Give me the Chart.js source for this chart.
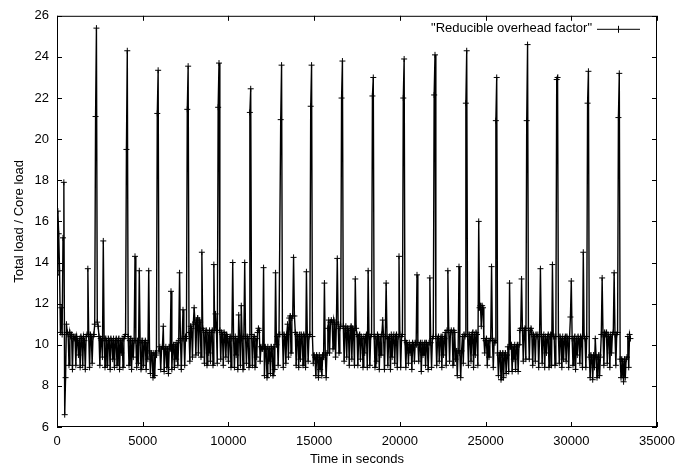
<!DOCTYPE html>
<html lang="en">
<head>
    <meta charset="UTF-8">
    <title>Reducible overhead factor</title>
    <script src="https://cdn.jsdelivr.net/npm/chart.js"></script>
    <style>
        html, body { margin: 0; padding: 0; background: #fff; }
        #wrap { width: 685px; height: 469px; }
    </style>
</head>
<body>
    <div id="wrap"><canvas id="overheadChart" width="685" height="469"></canvas></div>
    <script>
        const seriesLabel = '"Reducible overhead factor"';
        const xTitle = 'Time in seconds';
        const yTitle = 'Total load / Core load';
        const xTicks = [0, 5000, 10000, 15000, 20000, 25000, 30000, 35000];
        const yTicks = [6, 8, 10, 12, 14, 16, 18, 20, 22, 24, 26];

        // sample times in seconds (one row = 1000 s)
        const timeSec = [
            0, 50, 100, 150, 200, 250, 300, 350, 400, 450, 500, 550, 600, 650, 700, 750, 800, 850, 900, 950,
            1000, 1050, 1100, 1150, 1200, 1250, 1300, 1350, 1400, 1450, 1500, 1550, 1600, 1650, 1700, 1750, 1800, 1850, 1900, 1950,
            2000, 2050, 2100, 2150, 2200, 2250, 2300, 2350, 2400, 2450, 2500, 2550, 2600, 2650, 2700, 2750, 2800, 2850, 2900, 2950,
            3000, 3050, 3100, 3150, 3200, 3250, 3300, 3350, 3400, 3450, 3500, 3550, 3600, 3650, 3700, 3750, 3800, 3850, 3900, 3950,
            4000, 4050, 4100, 4150, 4200, 4250, 4300, 4350, 4400, 4450, 4500, 4550, 4600, 4650, 4700, 4750, 4800, 4850, 4900, 4950,
            5000, 5050, 5100, 5150, 5200, 5250, 5300, 5350, 5400, 5450, 5500, 5550, 5600, 5650, 5700, 5750, 5800, 5850, 5900, 5950,
            6000, 6050, 6100, 6150, 6200, 6250, 6300, 6350, 6400, 6450, 6500, 6550, 6600, 6650, 6700, 6750, 6800, 6850, 6900, 6950,
            7000, 7050, 7100, 7150, 7200, 7250, 7300, 7350, 7400, 7450, 7500, 7550, 7600, 7650, 7700, 7750, 7800, 7850, 7900, 7950,
            8000, 8050, 8100, 8150, 8200, 8250, 8300, 8350, 8400, 8450, 8500, 8550, 8600, 8650, 8700, 8750, 8800, 8850, 8900, 8950,
            9000, 9050, 9100, 9150, 9200, 9250, 9300, 9350, 9400, 9450, 9500, 9550, 9600, 9650, 9700, 9750, 9800, 9850, 9900, 9950,
            10000, 10050, 10100, 10150, 10200, 10250, 10300, 10350, 10400, 10450, 10500, 10550, 10600, 10650, 10700, 10750, 10800, 10850, 10900, 10950,
            11000, 11050, 11100, 11150, 11200, 11250, 11300, 11350, 11400, 11450, 11500, 11550, 11600, 11650, 11700, 11750, 11800, 11850, 11900, 11950,
            12000, 12050, 12100, 12150, 12200, 12250, 12300, 12350, 12400, 12450, 12500, 12550, 12600, 12650, 12700, 12750, 12800, 12850, 12900, 12950,
            13000, 13050, 13100, 13150, 13200, 13250, 13300, 13350, 13400, 13450, 13500, 13550, 13600, 13650, 13700, 13750, 13800, 13850, 13900, 13950,
            14000, 14050, 14100, 14150, 14200, 14250, 14300, 14350, 14400, 14450, 14500, 14550, 14600, 14650, 14700, 14750, 14800, 14850, 14900, 14950,
            15000, 15050, 15100, 15150, 15200, 15250, 15300, 15350, 15400, 15450, 15500, 15550, 15600, 15650, 15700, 15750, 15800, 15850, 15900, 15950,
            16000, 16050, 16100, 16150, 16200, 16250, 16300, 16350, 16400, 16450, 16500, 16550, 16600, 16650, 16700, 16750, 16800, 16850, 16900, 16950,
            17000, 17050, 17100, 17150, 17200, 17250, 17300, 17350, 17400, 17450, 17500, 17550, 17600, 17650, 17700, 17750, 17800, 17850, 17900, 17950,
            18000, 18050, 18100, 18150, 18200, 18250, 18300, 18350, 18400, 18450, 18500, 18550, 18600, 18650, 18700, 18750, 18800, 18850, 18900, 18950,
            19000, 19050, 19100, 19150, 19200, 19250, 19300, 19350, 19400, 19450, 19500, 19550, 19600, 19650, 19700, 19750, 19800, 19850, 19900, 19950,
            20000, 20050, 20100, 20150, 20200, 20250, 20300, 20350, 20400, 20450, 20500, 20550, 20600, 20650, 20700, 20750, 20800, 20850, 20900, 20950,
            21000, 21050, 21100, 21150, 21200, 21250, 21300, 21350, 21400, 21450, 21500, 21550, 21600, 21650, 21700, 21750, 21800, 21850, 21900, 21950,
            22000, 22050, 22100, 22150, 22200, 22250, 22300, 22350, 22400, 22450, 22500, 22550, 22600, 22650, 22700, 22750, 22800, 22850, 22900, 22950,
            23000, 23050, 23100, 23150, 23200, 23250, 23300, 23350, 23400, 23450, 23500, 23550, 23600, 23650, 23700, 23750, 23800, 23850, 23900, 23950,
            24000, 24050, 24100, 24150, 24200, 24250, 24300, 24350, 24400, 24450, 24500, 24550, 24600, 24650, 24700, 24750, 24800, 24850, 24900, 24950,
            25000, 25050, 25100, 25150, 25200, 25250, 25300, 25350, 25400, 25450, 25500, 25550, 25600, 25650, 25700, 25750, 25800, 25850, 25900, 25950,
            26000, 26050, 26100, 26150, 26200, 26250, 26300, 26350, 26400, 26450, 26500, 26550, 26600, 26650, 26700, 26750, 26800, 26850, 26900, 26950,
            27000, 27050, 27100, 27150, 27200, 27250, 27300, 27350, 27400, 27450, 27500, 27550, 27600, 27650, 27700, 27750, 27800, 27850, 27900, 27950,
            28000, 28050, 28100, 28150, 28200, 28250, 28300, 28350, 28400, 28450, 28500, 28550, 28600, 28650, 28700, 28750, 28800, 28850, 28900, 28950,
            29000, 29050, 29100, 29150, 29200, 29250, 29300, 29350, 29400, 29450, 29500, 29550, 29600, 29650, 29700, 29750, 29800, 29850, 29900, 29950,
            30000, 30050, 30100, 30150, 30200, 30250, 30300, 30350, 30400, 30450, 30500, 30550, 30600, 30650, 30700, 30750, 30800, 30850, 30900, 30950,
            31000, 31050, 31100, 31150, 31200, 31250, 31300, 31350, 31400, 31450, 31500, 31550, 31600, 31650, 31700, 31750, 31800, 31850, 31900, 31950,
            32000, 32050, 32100, 32150, 32200, 32250, 32300, 32350, 32400, 32450, 32500, 32550, 32600, 32650, 32700, 32750, 32800, 32850, 32900, 32950,
            33000, 33050, 33100, 33150, 33200, 33250, 33300, 33350, 33400, 33450
        ];
        const overheadFactor = [
            13.4, 16.5, 15.4, 13.6, 10.6, 11.8, 10.5, 15.2, 17.9, 6.6, 8.4, 11.0, 10.6, 10.5, 9.0, 10.6, 10.4, 10.5, 8.8, 10.4,
            10.3, 10.4, 9.0, 10.4, 10.2, 9.5, 10.3, 8.9, 10.4, 10.3, 9.0, 10.4, 10.2, 8.8, 10.4, 10.5, 13.7, 10.4, 8.9, 10.5,
            10.4, 9.1, 10.4, 10.5, 11.0, 21.1, 25.4, 11.1, 10.9, 10.4, 9.0, 10.3, 10.2, 9.4, 15.05, 10.3, 8.9, 10.3, 10.2, 9.0,
            10.3, 10.2, 8.8, 10.3, 10.2, 9.3, 10.3, 8.9, 10.2, 10.3, 9.0, 10.2, 10.3, 8.8, 10.2, 9.6, 10.3, 8.9, 10.3, 10.4,
            10.5, 19.5, 24.3, 10.4, 9.0, 10.2, 10.3, 8.8, 10.2, 9.4, 10.2, 14.3, 10.2, 8.9, 10.2, 9.1, 13.6, 10.1, 8.8, 10.2,
            10.2, 9.0, 10.1, 10.2, 8.8, 10.1, 9.3, 13.6, 9.7, 8.6, 9.6, 9.5, 8.4, 9.6, 8.5, 9.6, 9.5, 21.25, 23.35, 9.7,
            9.9, 8.8, 9.8, 9.9, 10.9, 8.7, 9.8, 9.9, 8.9, 9.8, 8.6, 9.9, 9.8, 12.6, 8.8, 9.9, 10.0, 8.9, 10.0, 9.3,
            10.1, 9.0, 10.2, 13.5, 10.3, 8.8, 10.3, 11.7, 10.3, 9.0, 10.4, 10.3, 21.45, 23.55, 10.6, 9.2, 10.9, 10.8, 9.4, 11.0,
            11.8, 11.1, 9.5, 11.2, 11.3, 9.6, 11.2, 11.1, 9.4, 14.5, 10.8, 10.7, 9.1, 10.6, 10.7, 9.0, 10.6, 9.6, 10.7, 9.2,
            10.6, 10.7, 9.0, 13.9, 10.7, 11.5, 10.7, 9.1, 21.55, 23.7, 10.7, 9.3, 10.6, 10.5, 9.0, 10.6, 10.5, 9.4, 10.5, 10.4,
            9.2, 10.3, 10.4, 8.9, 10.3, 14.0, 10.3, 8.9, 10.4, 9.5, 10.3, 8.8, 11.45, 10.3, 9.0, 11.9, 10.3, 8.8, 10.4, 14.0,
            10.3, 9.1, 10.4, 10.3, 8.9, 21.3, 22.45, 10.5, 9.0, 10.3, 10.4, 8.9, 10.3, 9.4, 10.6, 10.8, 10.7, 9.2, 9.9, 9.8,
            9.8, 13.75, 8.5, 9.9, 9.8, 8.4, 9.9, 9.2, 9.8, 8.6, 9.9, 9.8, 8.5, 9.9, 8.8, 13.5, 10.0, 10.4, 9.0, 10.5,
            10.5, 20.95, 23.6, 10.5, 8.9, 10.5, 10.4, 9.1, 10.5, 11.0, 9.4, 11.3, 11.4, 9.6, 11.3, 11.4, 14.25, 11.4, 10.6, 9.0,
            10.5, 10.4, 8.9, 10.5, 9.3, 10.5, 10.4, 9.0, 10.5, 10.4, 8.9, 13.55, 10.5, 9.2, 10.4, 10.5, 21.6, 23.6, 10.4, 9.1,
            9.5, 9.4, 8.5, 9.5, 9.4, 8.4, 9.5, 8.8, 9.4, 8.5, 9.5, 9.4, 13.0, 9.5, 8.4, 9.6, 10.8, 11.2, 9.6, 11.1,
            11.2, 11.1, 9.8, 11.2, 11.0, 9.4, 11.1, 14.2, 11.0, 9.6, 10.8, 10.9, 22.0, 23.8, 10.9, 9.2, 10.8, 10.9, 9.4, 10.8,
            10.7, 9.0, 10.8, 10.9, 9.3, 10.8, 10.7, 9.0, 13.2, 10.8, 10.5, 9.0, 10.4, 10.5, 9.3, 10.4, 10.3, 8.9, 10.4, 9.6,
            10.4, 10.5, 8.9, 13.6, 10.4, 9.0, 10.4, 10.5, 22.1, 23.0, 10.4, 8.9, 10.4, 9.2, 10.5, 10.4, 8.8, 10.4, 9.5, 10.5,
            11.2, 10.4, 8.8, 10.4, 13.0, 10.4, 9.0, 10.3, 10.4, 8.8, 10.5, 9.4, 10.4, 10.5, 9.1, 10.4, 10.5, 8.9, 10.4, 14.3,
            10.5, 8.9, 10.4, 10.5, 22.0, 23.9, 10.2, 8.9, 10.1, 10.0, 9.1, 10.1, 9.6, 10.0, 8.8, 10.1, 10.0, 9.2, 10.1, 10.0,
            13.4, 10.1, 9.2, 10.0, 10.1, 8.7, 10.1, 9.5, 10.0, 10.1, 9.0, 10.1, 10.0, 8.8, 10.1, 13.25, 10.1, 8.9, 10.3, 10.4,
            22.15, 24.1, 10.4, 9.0, 10.3, 10.4, 9.2, 10.3, 10.4, 8.9, 10.4, 9.5, 10.3, 10.6, 9.0, 10.7, 13.6, 10.7, 9.2, 10.6,
            10.7, 10.6, 9.0, 10.7, 10.6, 9.3, 9.7, 8.5, 9.7, 13.8, 9.6, 8.4, 9.7, 10.4, 9.1, 10.5, 10.4, 21.75, 24.3, 10.5,
            9.0, 10.5, 10.4, 9.2, 10.5, 10.6, 8.9, 10.5, 9.5, 10.6, 10.5, 9.0, 16.0, 11.8, 11.9, 10.9, 11.9, 11.8, 10.3, 9.6,
            10.2, 10.3, 9.0, 10.2, 9.4, 10.2, 10.3, 13.8, 10.2, 8.9, 10.2, 10.1, 20.9, 23.0, 9.6, 8.5, 9.5, 9.6, 8.3, 9.5,
            9.6, 8.4, 9.5, 9.6, 8.6, 9.5, 9.9, 8.7, 13.0, 9.9, 10.0, 8.7, 9.9, 9.3, 10.0, 8.8, 9.9, 10.0, 8.7, 10.0,
            10.7, 10.8, 13.2, 10.8, 9.2, 10.7, 10.8, 9.3, 20.9, 24.6, 10.8, 9.3, 10.7, 10.8, 10.5, 9.0, 10.5, 10.4, 9.2, 10.5,
            10.4, 10.5, 8.9, 10.4, 13.7, 10.5, 9.1, 10.4, 10.5, 8.9, 10.4, 9.6, 10.4, 10.5, 8.9, 10.4, 10.5, 9.0, 13.9, 10.4,
            10.4, 9.0, 10.4, 22.9, 23.0, 10.4, 9.1, 10.4, 10.3, 8.9, 10.4, 9.3, 10.3, 10.4, 9.2, 10.4, 10.3, 8.9, 10.4, 11.35,
            13.1, 10.3, 9.0, 10.3, 10.4, 8.8, 10.3, 9.5, 10.4, 10.3, 9.1, 10.4, 10.3, 8.9, 14.5, 10.4, 10.3, 8.9, 10.4, 21.75,
            23.3, 9.4, 8.4, 9.5, 9.4, 8.3, 9.5, 8.9, 10.3, 9.4, 8.4, 9.4, 9.5, 8.5, 9.4, 10.5, 13.25, 10.5, 9.0, 10.6,
            10.5, 10.6, 9.1, 10.5, 10.4, 8.9, 10.5, 9.6, 10.5, 10.6, 13.5, 10.5, 9.0, 10.5, 10.6, 21.05, 23.2, 9.3, 8.4, 9.3,
            9.2, 8.2, 9.3, 8.4, 9.3, 9.4, 10.4, 8.9, 10.5, 10.3
        ];

        const fontFamily = '"Liberation Sans", Arial, Helvetica, sans-serif';
        Chart.defaults.font.family = fontFamily;
        Chart.defaults.font.size = 13;
        Chart.defaults.color = '#000';

        // gnuplot style border with inward ticks on all sides, plus the key
        const gnuplotFrame = {
            id: 'gnuplotFrame',
            afterDraw(chart) {
                const {ctx, chartArea: a, scales: {x, y}} = chart;
                ctx.save();
                ctx.strokeStyle = '#000';
                ctx.lineWidth = 1;
                ctx.strokeRect(a.left + 0.5, a.top + 0.5, a.right - a.left - 1, a.bottom - a.top - 1);
                ctx.beginPath();
                xTicks.forEach(v => {
                    const px = Math.round(x.getPixelForValue(v)) + 0.5;
                    ctx.moveTo(px, a.bottom); ctx.lineTo(px, a.bottom - 5);
                    ctx.moveTo(px, a.top); ctx.lineTo(px, a.top + 5);
                });
                yTicks.forEach(v => {
                    const py = Math.round(y.getPixelForValue(v)) + 0.5;
                    ctx.moveTo(a.left, py); ctx.lineTo(a.left + 5, py);
                    ctx.moveTo(a.right, py); ctx.lineTo(a.right - 5, py);
                });
                ctx.stroke();

                // key
                const ky = a.top + 13;
                const kx = a.right - 65;
                ctx.fillStyle = '#000';
                ctx.font = '13px ' + fontFamily;
                ctx.textAlign = 'right';
                ctx.textBaseline = 'middle';
                ctx.fillText(seriesLabel, kx, ky);
                ctx.beginPath();
                ctx.moveTo(kx + 5, ky + 0.5); ctx.lineTo(kx + 48, ky + 0.5);
                ctx.moveTo(kx + 26.5, ky - 3); ctx.lineTo(kx + 26.5, ky + 4);
                ctx.stroke();
                ctx.restore();
            }
        };

        const points = timeSec.map((t, i) => ({x: t, y: overheadFactor[i]}));

        new Chart(document.getElementById('overheadChart'), {
            type: 'line',
            data: {
                datasets: [{
                    label: seriesLabel,
                    data: points,
                    borderColor: '#000',
                    borderWidth: 1.4,
                    tension: 0,
                    fill: false,
                    pointStyle: 'cross',
                    pointRadius: 3,
                    pointBorderWidth: 1,
                    pointBorderColor: '#000',
                    pointBackgroundColor: '#000'
                }]
            },
            options: {
                responsive: false,
                animation: false,
                events: [],
                layout: { padding: { top: 12, right: 28, left: 0, bottom: 0 } },
                plugins: { legend: { display: false }, tooltip: { enabled: false } },
                scales: {
                    x: {
                        type: 'linear',
                        min: 0,
                        max: 35000,
                        afterFit(scale) { scale.height = 42; },
                        afterBuildTicks(scale) { scale.ticks = xTicks.map(v => ({value: v})); },
                        grid: { display: false, drawTicks: false },
                        border: { display: false },
                        ticks: { padding: 7, maxRotation: 0, autoSkip: false, callback: v => String(v) },
                        title: { display: true, text: xTitle, padding: { top: 0, bottom: 2 } }
                    },
                    y: {
                        min: 6,
                        max: 26,
                        afterFit(scale) { scale.width = 57; },
                        afterBuildTicks(scale) { scale.ticks = yTicks.map(v => ({value: v})); },
                        grid: { display: false, drawTicks: false },
                        border: { display: false },
                        ticks: { padding: 8, autoSkip: false, callback: v => String(v) },
                        title: { display: true, text: yTitle, padding: { top: 12, bottom: 0 } }
                    }
                }
            },
            plugins: [gnuplotFrame]
        });
    </script>
</body>
</html>
